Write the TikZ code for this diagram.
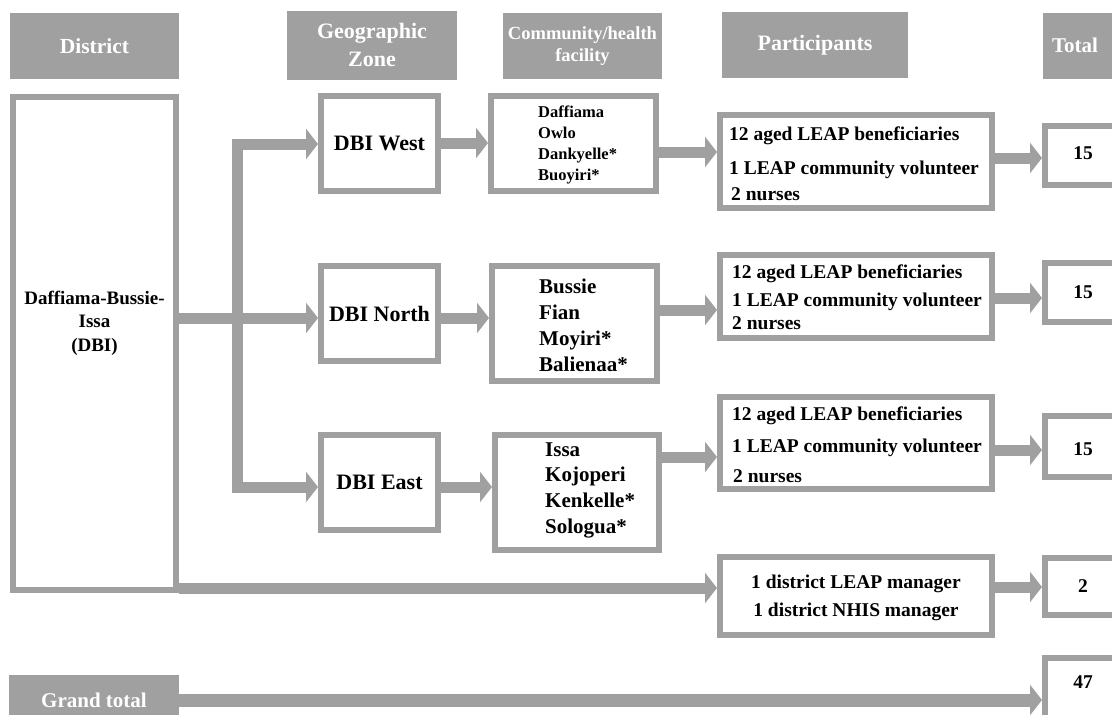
\documentclass[tikz,border=0pt]{standalone}
\usepackage{fontspec}
\setmainfont{Liberation Serif}
\usetikzlibrary{arrows.meta}
\definecolor{gr}{HTML}{A0A0A0}
\begin{document}
\begin{tikzpicture}[x=1pt,y=-1pt,
  box/.style={draw=gr, line width=6pt, fill=white, inner sep=0pt},
  hdr/.style={fill=gr, draw=none, text=white, inner sep=0pt, align=center},
  conn/.style={draw=gr, line width=11pt, line join=miter, -{Triangle[length=12pt,width=30pt]}},
  ptxt/.style={anchor=west, inner sep=0pt, text height=13pt, text depth=2pt, font=\fontsize{19.5}{23}\selectfont\bfseries},
  ctxt/.style={inner sep=0pt, text height=13pt, text depth=2pt, font=\fontsize{19.5}{23}\selectfont\bfseries},
]
\useasboundingbox (0,0) rectangle (1112,715);
\clip (0,0) rectangle (1112,715);
\fill[white] (0,0) rectangle (1112,715);

% headers
\node[hdr, minimum width=169pt, minimum height=66pt, font=\fontsize{21.5}{24}\selectfont\bfseries] (hD) at (94.5,46) {District};
\node[hdr, minimum width=170pt, minimum height=69pt, font=\fontsize{22}{28}\selectfont\bfseries] (hG) at (372,45) {Geographic\\Zone};
\node[hdr, minimum width=159pt, minimum height=66pt, font=\fontsize{18.5}{22.5}\selectfont\bfseries] (hC) at (582.5,46) {Community/health\\facility};
\node[hdr, minimum width=186pt, minimum height=66pt, font=\fontsize{22}{24}\selectfont\bfseries] (hP) at (815,45) {Participants};
\node[hdr, minimum width=87pt, minimum height=66pt] (hT) at (1086.5,46) {};
\node[text=white, font=\fontsize{21}{24}\selectfont\bfseries] (hTt) at (1075,45) {Total};
\node[hdr, minimum width=170pt, minimum height=50pt] (hGT) at (94,700) {};
\node[text=white, font=\fontsize{21}{24}\selectfont\bfseries] (hGTt) at (94,700) {Grand total};

% district box
\node[box, minimum width=163pt, minimum height=493pt] (dbi) at (94.5,343.5) {};
\node[align=center, inner sep=0pt, font=\fontsize{19}{23.5}\selectfont\bfseries] (dbit) at (94.5,323) {Daffiama-Bussie-\\Issa\\(DBI)};

% zones
\node[box, minimum width=117pt, minimum height=95pt, font=\fontsize{22}{26}\selectfont\bfseries] (zw) at (379.5,143.5) {DBI West};
\node[box, minimum width=117pt, minimum height=95pt, font=\fontsize{22}{26}\selectfont\bfseries] (zn) at (379.5,313.5) {DBI North};
\node[box, minimum width=117pt, minimum height=95pt, font=\fontsize{22}{26}\selectfont\bfseries] (ze) at (379.5,482.5) {DBI East};

% communities
\node[box, minimum width=165pt, minimum height=95pt] (cw) at (573.5,143.5) {};
\node[anchor=west, align=left, inner sep=0pt, font=\fontsize{16.5}{20.7}\selectfont\bfseries] (cwt) at (538,145) {Daffiama\\Owlo\\Dankyelle*\\Buoyiri*};
\node[box, minimum width=165pt, minimum height=115pt] (cn) at (574.5,323.5) {};
\node[anchor=west, align=left, inner sep=0pt, font=\fontsize{21}{26}\selectfont\bfseries] (cnt) at (539,325) {Bussie\\Fian\\Moyiri*\\Balienaa*};
\node[box, minimum width=164pt, minimum height=115pt] (ce) at (577,492.5) {};
\node[anchor=west, align=left, inner sep=0pt, font=\fontsize{21}{25.7}\selectfont\bfseries] (cet) at (545,490) {Issa\\Kojoperi\\Kenkelle*\\Sologua*};

% participants
\node[box, minimum width=272pt, minimum height=93pt] (pw) at (856,161.5) {};
\node[ptxt] (pw1) at (729,135) {12 aged LEAP beneficiaries};
\node[ptxt] (pw2) at (729,169) {1 LEAP community volunteer};
\node[ptxt] (pw3) at (731,195) {2 nurses};
\node[box, minimum width=272pt, minimum height=83pt] (pn) at (856,296.5) {};
\node[ptxt] (pn1) at (732,273) {12 aged LEAP beneficiaries};
\node[ptxt] (pn2) at (732,301) {1 LEAP community volunteer};
\node[ptxt] (pn3) at (732,324) {2 nurses};
\node[box, minimum width=272pt, minimum height=92pt] (pe) at (856,443) {};
\node[ptxt] (pe1) at (732,415) {12 aged LEAP beneficiaries};
\node[ptxt] (pe2) at (732,447) {1 LEAP community volunteer};
\node[ptxt] (pe3) at (733,477) {2 nurses};
\node[box, minimum width=272pt, minimum height=78pt] (pm) at (856,596) {};
\node[ctxt] (pm1) at (856,583) {1 district LEAP manager};
\node[ctxt] (pm2) at (856,611) {1 district NHIS manager};

% totals
\node[box, minimum width=76pt, minimum height=59pt] (tw) at (1083,155.5) {};
\node[ctxt] (twt) at (1083,154) {15};
\node[box, minimum width=76pt, minimum height=59pt] (tn) at (1083,292.5) {};
\node[ctxt] (tnt) at (1083,293) {15};
\node[box, minimum width=76pt, minimum height=61pt] (te) at (1083,446.5) {};
\node[ctxt] (tet) at (1083,450) {15};
\node[box, minimum width=76pt, minimum height=57pt] (tm) at (1083,586.5) {};
\node[ctxt] (tmt) at (1083,587) {2};
\node[box, minimum width=76pt, minimum height=64pt] (tg) at (1083,690) {};
\node[ctxt] (tgt) at (1083,683) {47};

% connectors
\coordinate (jn) at (237,318);
\draw[conn] (dbi.east |- 0,318) -- (zn.west |- 0,318);
\draw[conn] (jn) |- (zw.west |- 0,144);
\draw[conn] (jn) |- (ze.west |- 0,487);
\draw[conn] (zw.east |- 0,143) -- (cw.west |- 0,143);
\draw[conn] (zn.east |- 0,318) -- (cn.west |- 0,318);
\draw[conn] (ze.east |- 0,487) -- (ce.west |- 0,487);
\draw[conn] (cw.east |- 0,152) -- (pw.west |- 0,152);
\draw[conn] (cn.east |- 0,310) -- (pn.west |- 0,310);
\draw[conn] (ce.east |- 0,457) -- (pe.west |- 0,457);
\draw[conn] (pw.east |- 0,158) -- (tw.west |- 0,158);
\draw[conn] (pn.east |- 0,298) -- (tn.west |- 0,298);
\draw[conn] (pe.east |- 0,450) -- (te.west |- 0,450);
\draw[conn] (pm.east |- 0,587) -- (tm.west |- 0,587);
\draw[conn] (dbi.east |- 0,588) -- (pm.west |- 0,588);
\draw[conn, line width=13pt] (hGT.east) -- (tg.west |- hGT.east);
\end{tikzpicture}
\end{document}
